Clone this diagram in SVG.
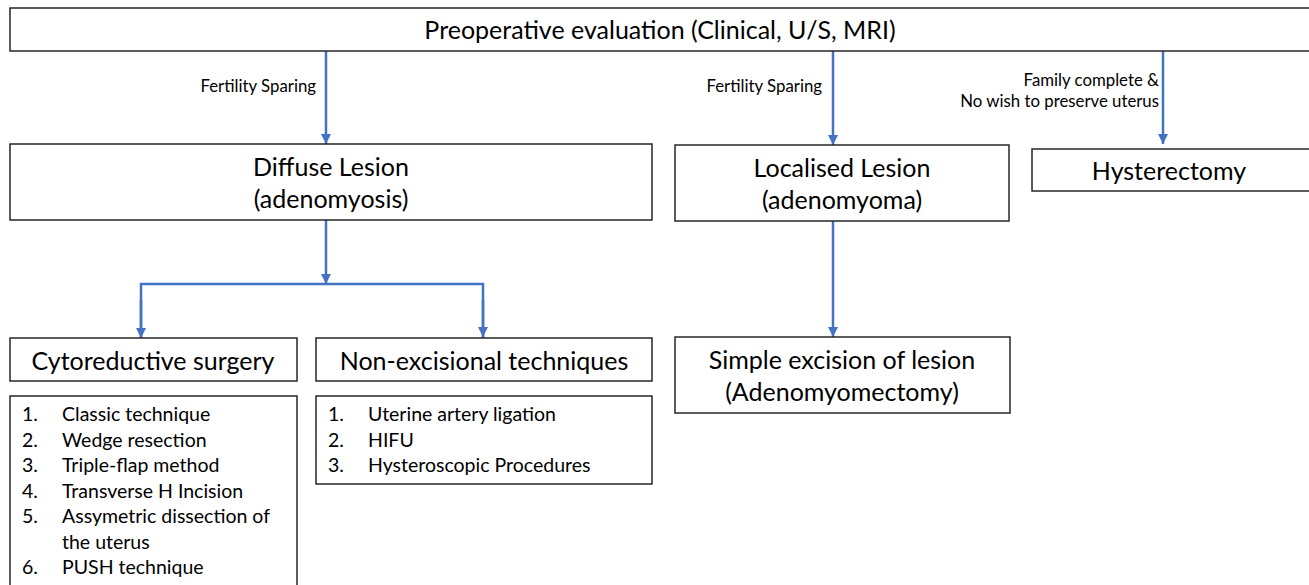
<svg xmlns="http://www.w3.org/2000/svg" width="1309" height="585" viewBox="0 0 1309 585">
<style>
.box{fill:#fff;stroke:#262626;stroke-width:1.5}
.t{font-family:Lato,"Open Sans",sans-serif;fill:#000;font-size:25px;text-anchor:middle}
.s{font-family:Lato,"Open Sans",sans-serif;fill:#000;font-size:16.8px}
.l{font-family:Lato,"Open Sans",sans-serif;fill:#000;font-size:19.5px}
.c{fill:none;stroke:#4472C4;stroke-width:2.5}
</style>
<defs>
<marker id="ah" viewBox="0 0 10 10" refX="10" refY="5" markerWidth="4" markerHeight="4" markerUnits="strokeWidth" orient="auto">
<path d="M0,0 L10,5 L0,10 z" fill="#4472C4"/>
</marker>
</defs>
<rect width="1309" height="585" fill="#fff"/>
<g id="connectors">
<line class="c" x1="326" y1="51" x2="326" y2="144" marker-end="url(#ah)"/>
<line class="c" x1="833" y1="51" x2="833" y2="145" marker-end="url(#ah)"/>
<line class="c" x1="1163" y1="51" x2="1163" y2="144" marker-end="url(#ah)"/>
<line class="c" x1="326" y1="220" x2="326" y2="284" marker-end="url(#ah)"/>
<polyline class="c" points="141,338 141,284 483,284 483,338" stroke-linejoin="miter"/>
<line class="c" x1="141" y1="300" x2="141" y2="338" marker-end="url(#ah)"/>
<line class="c" x1="483" y1="300" x2="483" y2="337" marker-end="url(#ah)"/>
<line class="c" x1="833" y1="221" x2="833" y2="337" marker-end="url(#ah)"/>
<text class="s" x="316" y="92" text-anchor="end">Fertility Sparing</text>
<text class="s" x="822" y="92" text-anchor="end">Fertility Sparing</text>
<text class="s" x="1159" y="86" text-anchor="end">Family complete &amp;</text>
<text class="s" x="1159" y="107" text-anchor="end">No wish to preserve uterus</text>
</g>
<g id="preop">
<rect class="box" x="10" y="8" width="1310" height="43"/>
<text class="t" x="660" y="39">Preoperative evaluation (Clinical, U/S, MRI)</text>
</g>
<g id="diffuse">
<rect class="box" x="10" y="144" width="642" height="76"/>
<text class="t" x="331" y="176">Diffuse Lesion</text>
<text class="t" x="331" y="208">(adenomyosis)</text>
</g>
<g id="localised">
<rect class="box" x="675" y="145" width="334" height="76"/>
<text class="t" x="842" y="177">Localised Lesion</text>
<text class="t" x="842" y="209">(adenomyoma)</text>
</g>
<g id="hysterectomy">
<rect class="box" x="1032" y="149" width="290" height="42"/>
<text class="t" x="1169" y="180">Hysterectomy</text>
</g>
<g id="cyto">
<rect class="box" x="10" y="338" width="287" height="43"/>
<text class="t" x="153" y="370">Cytoreductive surgery</text>
</g>
<g id="nonexc">
<rect class="box" x="316" y="338" width="336" height="43"/>
<text class="t" x="484" y="370">Non-excisional techniques</text>
</g>
<g id="cyto-list">
<rect class="box" x="10" y="396" width="287" height="200"/>
<text class="l" x="22" y="421">1.</text><text class="l" x="62" y="421">Classic technique</text>
<text class="l" x="22" y="447">2.</text><text class="l" x="62" y="447">Wedge resection</text>
<text class="l" x="22" y="472">3.</text><text class="l" x="62" y="472">Triple-flap method</text>
<text class="l" x="22" y="498">4.</text><text class="l" x="62" y="498">Transverse H Incision</text>
<text class="l" x="22" y="523">5.</text><text class="l" x="62" y="523">Assymetric dissection of</text>
<text class="l" x="62" y="549">the uterus</text>
<text class="l" x="22" y="574">6.</text><text class="l" x="62" y="574">PUSH technique</text>
</g>
<g id="nonexc-list">
<rect class="box" x="316" y="396" width="336" height="88"/>
<text class="l" x="328" y="421">1.</text><text class="l" x="368" y="421">Uterine artery ligation</text>
<text class="l" x="328" y="447">2.</text><text class="l" x="368" y="447">HIFU</text>
<text class="l" x="328" y="472">3.</text><text class="l" x="368" y="472">Hysteroscopic Procedures</text>
</g>
<g id="simple">
<rect class="box" x="675" y="337" width="335" height="76"/>
<text class="t" x="842" y="369">Simple excision of lesion</text>
<text class="t" x="842" y="401">(Adenomyomectomy)</text>
</g>
</svg>
